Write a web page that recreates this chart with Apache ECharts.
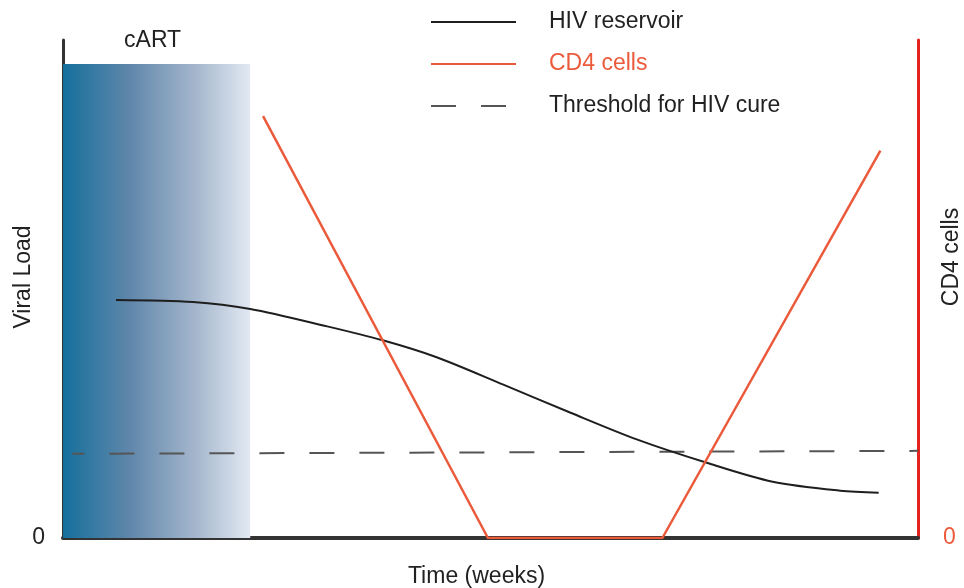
<!DOCTYPE html>
<html>
<head>
<meta charset="utf-8">
<script src="https://cdn.jsdelivr.net/npm/echarts@6/dist/echarts.min.js"></script>
<style>
  html, body { margin: 0; padding: 0; background: #fff; }
  #chart { width: 964px; height: 588px; }
</style>
</head>
<body>
<div id="chart"></div>
<script>
// time axis 0..100, both y axes 0..100 (arbitrary units)
const reservoirX = [6.2, 15.2, 21.9, 30.9, 37.4, 43.7, 51.5, 59.3, 67.1, 75.3, 83.0, 90.9, 95.4];
const reservoirY = [47.8, 47.4, 46.0, 42.5, 39.7, 36.3, 30.8, 25.2, 19.8, 15.1, 11.3, 9.5, 9.1];
const cd4X = [23.4, 49.7, 70.1, 95.6];
const cd4Y = [84.7, 0, 0, 77.8];
const thresholdX = [1.1, 100];
const thresholdY = [16.9, 17.5];
const cartX = [0, 21.9];
const cartY = [0, 95.2];
const legendNames = ['HIV reservoir', 'CD4 cells', 'Threshold for HIV cure'];

const FONT = 'Liberation Sans, Arial, sans-serif';
const FS = 23;
const RED = '#ec5a3c';

function zip(xs, ys) {
    return xs.map((x, i) => [x, ys[i]]);
}

var chart = echarts.init(document.getElementById('chart'), null, { renderer: 'canvas' });

chart.setOption({
    backgroundColor: '#ffffff',
    animation: false,
    textStyle: { fontFamily: FONT },
    grid: { left: 63, right: 46, top: 40, bottom: 50, containLabel: false, outerBoundsMode: 'none' },
    legend: {
        orient: 'vertical',
        left: 430,
        top: 10,
        padding: 0,
        itemWidth: 85,
        itemHeight: 24,
        itemGap: 18,
        itemStyle: { opacity: 0 },
        lineStyle: { dashOffset: 0 },
        textStyle: { fontSize: FS, lineHeight: 24, color: '#222', padding: [0, 0, 0, 28], fontFamily: FONT },
        data: [
            { name: legendNames[0] },
            { name: legendNames[1], textStyle: { color: RED } },
            { name: legendNames[2] },
        ],
    },
    // rotated y axis titles
    graphic: [
        {
            type: 'text', x: 24, y: 277, rotation: Math.PI / 2,
            style: { text: 'Viral Load', font: FS + 'px ' + FONT, fill: '#222', textAlign: 'center', textVerticalAlign: 'middle' },
        },
        {
            type: 'text', x: 952, y: 257, rotation: Math.PI / 2,
            style: { text: 'CD4 cells', font: FS + 'px ' + FONT, fill: '#222', textAlign: 'center', textVerticalAlign: 'middle' },
        },
    ],
    xAxis: {
        type: 'value',
        min: 0,
        max: 100,
        name: 'Time (weeks)',
        nameLocation: 'middle',
        nameGap: 27,
        nameTextStyle: { fontSize: FS, color: '#222', padding: [0, 28, 0, 0] },
        axisLine: { show: true, lineStyle: { color: '#333', width: 4 } },
        axisTick: { show: false },
        axisLabel: { show: false },
        splitLine: { show: false },
    },
    yAxis: [
        {
            type: 'value',
            min: 0,
            max: 100,
            interval: 100,
            position: 'left',
            axisLine: { show: true, lineStyle: { color: '#333', width: 3 } },
            axisTick: { show: false },
            axisLabel: {
                fontSize: FS, color: '#222', margin: 18,
                formatter: v => (v === 0 ? '0' : ''),
            },
            splitLine: { show: false },
        },
        {
            type: 'value',
            min: 0,
            max: 100,
            interval: 100,
            position: 'right',
            axisLine: { show: true, lineStyle: { color: '#e3231b', width: 3 } },
            axisTick: { show: false },
            axisLabel: {
                fontSize: FS, color: RED, margin: 25,
                formatter: v => (v === 0 ? '0' : ''),
            },
            splitLine: { show: false },
        },
    ],
    series: [
        {
            name: legendNames[0],
            type: 'line',
            yAxisIndex: 0,
            data: zip(reservoirX, reservoirY),
            smooth: 0.3,
            symbol: 'none',
            lineStyle: { color: '#1e1e1e', width: 2 },
            itemStyle: { color: '#1e1e1e' },
            z: 3,
            markArea: {
                silent: true,
                itemStyle: {
                    color: new echarts.graphic.LinearGradient(0, 0, 1, 0, [
                        { offset: 0, color: '#15709c' },
                        { offset: 0.35, color: '#5e86aa' },
                        { offset: 0.7, color: '#a3b5cc' },
                        { offset: 1, color: '#e2e9f2' },
                    ]),
                },
                label: {
                    show: true,
                    position: 'top',
                    distance: 12,
                    offset: [-4, 0],
                    fontSize: FS,
                    color: '#222',
                    fontFamily: FONT,
                },
                data: [[
                    { name: 'cART', coord: [cartX[0], cartY[0]] },
                    { coord: [cartX[1], cartY[1]] },
                ]],
            },
        },
        {
            name: legendNames[1],
            type: 'line',
            yAxisIndex: 1,
            data: zip(cd4X, cd4Y),
            symbol: 'none',
            lineStyle: { color: RED, width: 2.5 },
            itemStyle: { color: RED },
            z: 4,
        },
        {
            name: legendNames[2],
            type: 'line',
            yAxisIndex: 0,
            data: zip(thresholdX, thresholdY),
            symbol: 'none',
            lineStyle: { color: '#555', width: 2, type: [25, 25], dashOffset: 13 },
            itemStyle: { color: '#555' },
            z: 2,
        },
    ],
});
</script>
</body>
</html>
